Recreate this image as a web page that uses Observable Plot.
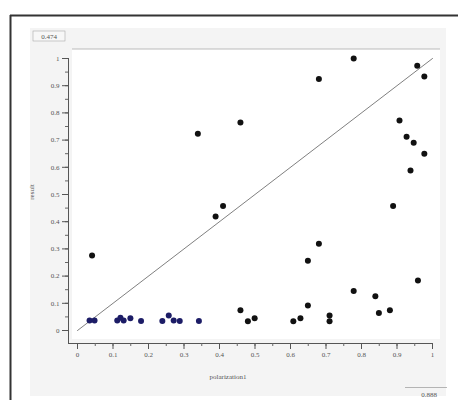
<!DOCTYPE html>
<html>
<head>
<meta charset="utf-8">
<script src="https://cdn.jsdelivr.net/npm/d3@7"></script>
<script src="https://cdn.jsdelivr.net/npm/@observablehq/plot@0.6"></script>
<style>
  html, body { margin: 0; padding: 0; background: #fff; }
  svg { display: block; }
</style>
</head>
<body>
<div id="chart"></div>
<script>
// Data
const pointX = [0.339, 0.459, 0.778, 0.680, 0.957, 0.977, 0.907, 0.927, 0.947, 0.977, 0.938,
                0.410, 0.389, 0.041, 0.459, 0.480, 0.499,
                0.889, 0.680, 0.649, 0.959, 0.778, 0.839, 0.649, 0.880, 0.849, 0.608, 0.628, 0.710, 0.710];
const pointY = [0.723, 0.765, 1.000, 0.925, 0.973, 0.934, 0.772, 0.712, 0.690, 0.650, 0.588,
                0.458, 0.419, 0.276, 0.074, 0.034, 0.045,
                0.458, 0.319, 0.256, 0.184, 0.145, 0.126, 0.092, 0.074, 0.064, 0.034, 0.045, 0.055, 0.034];
// low cluster (navy)
const clusterX = [0.034, 0.048, 0.112, 0.121, 0.130, 0.149, 0.179, 0.239, 0.257, 0.271, 0.288, 0.342];
const clusterY = [0.037, 0.037, 0.037, 0.047, 0.037, 0.045, 0.035, 0.035, 0.055, 0.037, 0.035, 0.035];
const lineX = [0, 1];
const lineY = [0, 1];
const majorTicks = [0, 0.1, 0.2, 0.3, 0.4, 0.5, 0.6, 0.7, 0.8, 0.9, 1];
const minorTicks = d3.range(0, 1.0001, 0.05);
const tickLabels = ["0", "0.1", "0.2", "0.3", "0.4", "0.5", "0.6", "0.7", "0.8", "0.9", "1"];
const xLabel = "polarization1";
const yLabel = "result";
const cornerTop = "0.474";
const cornerBottom = "0.888";

const pts = pointX.map((x, i) => ({x, y: pointY[i]}));
const cl = clusterX.map((x, i) => ({x, y: clusterY[i]}));
const ln = lineX.map((x, i) => ({x, y: lineY[i]}));
const fmt = d => tickLabels[majorTicks.findIndex(t => Math.abs(t - d) < 1e-6)] ?? "";

const W = 458, H = 405;
const chart = Plot.plot({
  width: W, height: H,
  marginLeft: 68, marginRight: 26, marginTop: 58, marginBottom: 62,
  x: {domain: [0, 1], insetLeft: 9, axis: null},
  y: {domain: [0, 1], insetBottom: 13, axis: null},
  style: {fontFamily: "Liberation Serif, serif", fontSize: "7px", color: "#555", background: "transparent"},
  marks: [
    Plot.frame({anchor: "left", stroke: "#555"}),
    Plot.frame({anchor: "bottom", stroke: "#555"}),
    Plot.axisY({ticks: minorTicks, tickSize: 3, tickFormat: () => "", stroke: "#666", label: null}),
    Plot.axisY({ticks: majorTicks, tickSize: 6, tickFormat: fmt, tickPadding: 3, stroke: "#555", fill: "#555", label: null}),
    Plot.axisX({ticks: minorTicks, tickSize: 3, tickFormat: () => "", stroke: "#666", label: null}),
    Plot.axisX({ticks: majorTicks, tickSize: 6, tickFormat: fmt, tickPadding: 3, stroke: "#555", fill: "#555", label: null}),
    Plot.line(ln, {x: "x", y: "y", stroke: "#808080", strokeWidth: 1}),
    Plot.dot(pts, {x: "x", y: "y", r: 3, fill: "#111", stroke: "none"}),
    Plot.dot(cl, {x: "x", y: "y", r: 3, fill: "#1c1c66", stroke: "none"})
  ]
});

// background panels
const svg = d3.select(chart);
const bg = svg.insert("g", ":first-child");
bg.append("rect").attr("x", 0).attr("y", 0).attr("width", W).attr("height", H).attr("fill", "#fff");
bg.append("rect").attr("x", 30).attr("y", 28).attr("width", 416).attr("height", 368).attr("fill", "#f4f4f4");
bg.append("rect").attr("x", 72).attr("y", 49).attr("width", 368).attr("height", 290).attr("fill", "#fff");
bg.append("line").attr("x1", 72).attr("x2", 440).attr("y1", 49).attr("y2", 49).attr("stroke", "#bbb");
bg.append("line").attr("x1", 10).attr("x2", W).attr("y1", 15.5).attr("y2", 15.5).attr("stroke", "#333").attr("stroke-width", 2);
bg.append("line").attr("x1", 10.5).attr("x2", 10.5).attr("y1", 15).attr("y2", 400).attr("stroke", "#333").attr("stroke-width", 2);

// axis titles and corner labels
const fg = svg.append("g").attr("font-family", "Liberation Serif, serif").attr("fill", "#555");
fg.append("text").attr("transform", "translate(34,192) rotate(-90)").attr("text-anchor", "middle")
  .attr("font-size", 7).text(yLabel);
fg.append("text").attr("x", 228).attr("y", 379).attr("font-size", 7).text(xLabel);
fg.append("rect").attr("x", 33).attr("y", 31).attr("width", 32).attr("height", 10).attr("fill", "#f7f7f7").attr("stroke", "#aaa").attr("stroke-width", 0.6);
fg.append("text").attr("x", 49).attr("y", 39).attr("text-anchor", "middle").attr("font-size", 7).text(cornerTop);
fg.append("line").attr("x1", 405).attr("x2", 447).attr("y1", 387.5).attr("y2", 387.5).attr("stroke", "#888").attr("stroke-width", 0.6);
fg.append("text").attr("x", 437).attr("y", 397).attr("text-anchor", "end").attr("font-size", 7).text(cornerBottom);

document.getElementById("chart").appendChild(chart);
</script>
</body>
</html>
